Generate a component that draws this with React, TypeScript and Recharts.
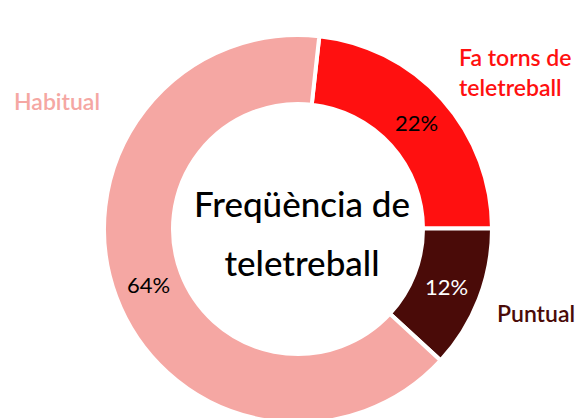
import React from "react";
import { PieChart, Pie, Cell, Customized } from "recharts";

const categories = ["Fa torns de teletreball", "Puntual", "Habitual"];
const values = [23.2, 11.9, 64.9];
const pctLabels = ["22%", "12%", "64%"];
const colors = ["#FF1010", "#4A0B08", "#F5A7A3"];
const pctColors = ["#000000", "#FFFFFF", "#000000"];
const titleLines = ["Freqüència de", "teletreball"];

const data = categories.map((name, i) => ({ name, value: values[i], pct: pctLabels[i] }));

const FONT = "Lato, 'Noto Sans', sans-serif";
const RAD = Math.PI / 180;

const renderPct = (props: any) => {
  const { cx, cy, midAngle, innerRadius, outerRadius, index } = props;
  const r = (innerRadius + outerRadius) / 2;
  const x = cx + r * Math.cos(-midAngle * RAD);
  const y = cy + r * Math.sin(-midAngle * RAD);
  return (
    <text x={x} y={y} fill={pctColors[index]} textAnchor="middle" dominantBaseline="central"
      fontSize={22} fontFamily={FONT}>
      {pctLabels[index]}
    </text>
  );
};

const Overlay = () => (
  <g fontFamily={FONT}>
    <text x={302} y={203} textAnchor="middle" dominantBaseline="central" fontSize={35} fontWeight={500} fill="#000">{titleLines[0]}</text>
    <text x={302} y={262} textAnchor="middle" dominantBaseline="central" fontSize={35} fontWeight={500} fill="#000">{titleLines[1]}</text>
    <g fontSize={23} fontWeight={600}>
      <text x={459} y={57} dominantBaseline="central" fill={colors[0]}>Fa torns de</text>
      <text x={459} y={87} dominantBaseline="central" fill={colors[0]}>teletreball</text>
      <text x={497} y={313} dominantBaseline="central" fill={colors[1]}>{categories[1]}</text>
      <text x={14} y={101} dominantBaseline="central" fill={colors[2]}>{categories[2]}</text>
    </g>
  </g>
);

export default function App() {
  return (
    <div style={{ position: "absolute", left: 0, top: 0, width: 580, height: 418, background: "#fff" }}>
      <PieChart width={580} height={418} margin={{ top: 0, right: 0, bottom: 0, left: 0 }}>
        <Pie
          data={data}
          dataKey="value"
          nameKey="name"
          cx={298}
          cy={229}
          innerRadius={125}
          outerRadius={194}
          startAngle={83.7}
          endAngle={83.7 - 360}
          stroke="#ffffff"
          strokeWidth={4}
          label={renderPct}
          labelLine={false}
          isAnimationActive={false}
        >
          {data.map((d, i) => (
            <Cell key={d.name} fill={colors[i]} />
          ))}
        </Pie>
        <Customized component={Overlay} />
      </PieChart>
    </div>
  );
}
